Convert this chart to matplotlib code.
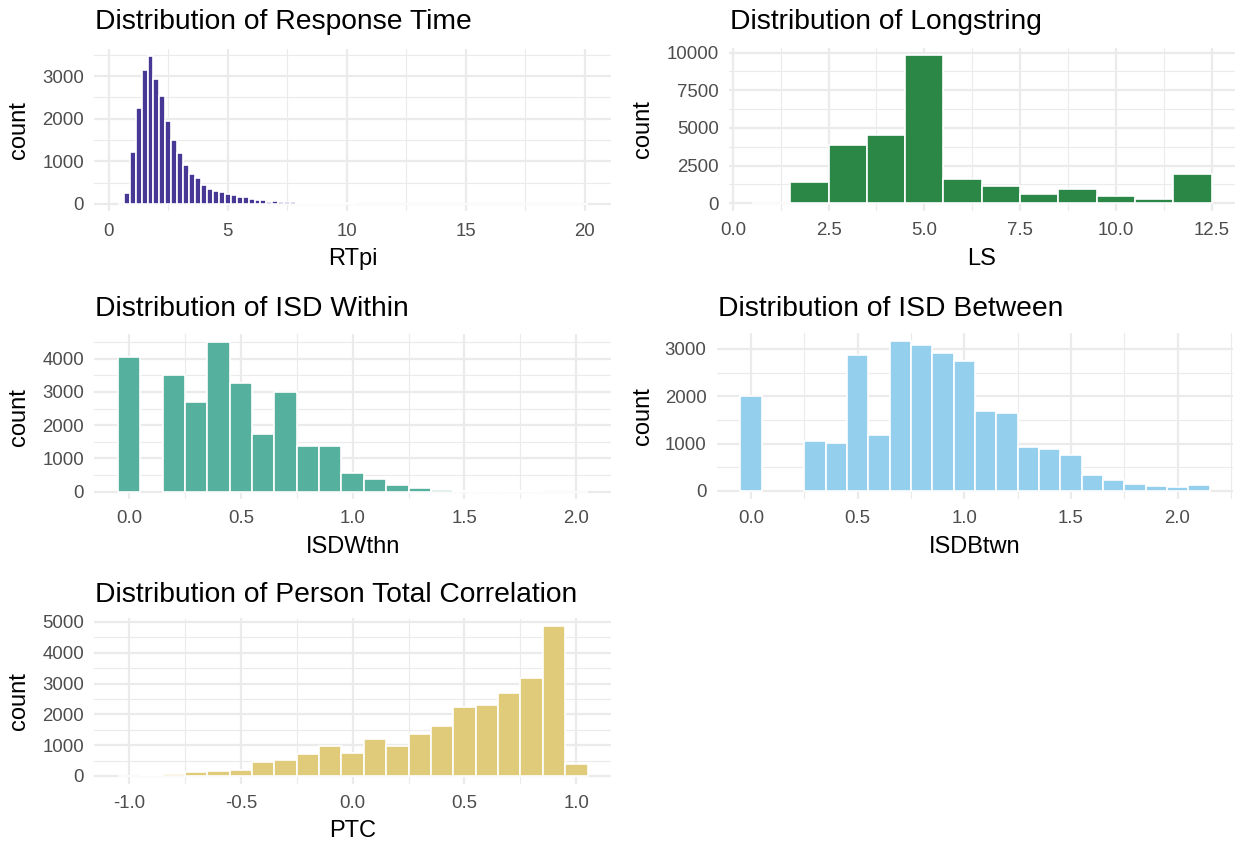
import numpy as np
import matplotlib
matplotlib.use("Agg")
import matplotlib.pyplot as plt
from matplotlib.ticker import MultipleLocator, FormatStrFormatter
from matplotlib.transforms import Affine2D

# ---------------- histogram data (counts per bin) ----------------
# Response time per item (RTpi): bins of width 0.25 starting at 0.5
rt_first_center = 0.5
rt_binwidth = 0.25
rt_counts = [10, 250, 1210, 2250, 3140, 3470, 2940, 2540, 1940, 1490,
             1200, 910, 710, 610, 450, 360, 300, 280, 225, 218,
             165, 162, 125, 88, 86, 56, 70, 46, 38, 36,
             30, 28, 24, 21, 19, 17, 15, 14, 12, 12,
             10, 10, 9, 9, 8, 8, 7, 7, 6, 6,
             6, 5, 5, 5, 4, 4, 4, 4, 3, 3,
             3, 3, 3, 3, 2, 2, 2, 2, 2, 2,
             2, 2, 1, 1, 1, 1, 1, 1, 4]

# Longstring (LS): bins of width 1 starting at 1
ls_first_center = 1.0
ls_binwidth = 1.0
ls_counts = [15, 1380, 3850, 4510, 9850, 1620, 1170, 610, 930, 490, 290, 1930]

# Intra-individual SD within scales: bins of width 0.1 starting at 0
isdw_first_center = 0.0
isdw_binwidth = 0.1
isdw_counts = [4040, 0, 3520, 2700, 4510, 3280, 1740, 2990, 1370, 1370,
               570, 390, 195, 125, 45, 30, 15, 10, 8, 5, 5]

# Intra-individual SD between scales: bins of width 0.1 starting at 0
isdb_first_center = 0.0
isdb_binwidth = 0.1
isdb_counts = [2010, 0, 0, 1065, 1010, 2870, 1175, 3175, 3080, 2915,
               2750, 1690, 1635, 930, 885, 765, 335, 230, 145, 108, 92, 130]

# Person total correlation: bins of width 0.1 starting at -1
ptc_first_center = -1.0
ptc_binwidth = 0.1
ptc_counts = [8, 25, 50, 130, 165, 205, 465, 505, 700, 975,
              745, 1190, 975, 1365, 1625, 2230, 2295, 2690, 3190, 4870, 405]

titles = ["Distribution of Response Time", "Distribution of Longstring",
          "Distribution of ISD Within", "Distribution of ISD Between",
          "Distribution of Person Total Correlation"]
xlabels = ["RTpi", "LS", "ISDWthn", "ISDBtwn", "PTC"]
fills = ["#463894", "#2A8746", "#55B09E", "#94CFEE", "#DFCB79"]

# ---------------- figure ----------------
plt.rcParams["font.family"] = ["Liberation Sans", "DejaVu Sans"]
plt.rcParams["axes.unicode_minus"] = False

W, H = 1236, 843
fig = plt.figure(figsize=(W / 100, H / 100), dpi=100)
fig.patch.set_facecolor("white")
# pixel coordinates measured from the top-left corner
px = Affine2D().scale(1 / W, -1 / H).translate(0, 1) + fig.transFigure

GRID = "#EBEBEB"
TICKCOL = "#4D4D4D"


def panel(box, first_center, binwidth, counts, fill, title, xlabel,
          xmajor, ymajor, xfmt, title_base, xlab_base, ylab_x):
    left, right, top, bottom = box
    ax = fig.add_axes([left / W, 1 - bottom / H, (right - left) / W, (bottom - top) / H])
    counts = np.asarray(counts, dtype=float)
    centers = first_center + binwidth * np.arange(len(counts))
    keep = counts > 0
    ax.bar(centers[keep], counts[keep], width=binwidth, color=fill,
           edgecolor="white", linewidth=1.2, zorder=3)

    lo = centers[0] - binwidth / 2
    hi = centers[-1] + binwidth / 2
    span = hi - lo
    ax.set_xlim(lo - 0.05 * span, hi + 0.05 * span)
    top_count = counts.max()
    ax.set_ylim(-0.05 * top_count, 1.05 * top_count)

    ax.xaxis.set_major_locator(MultipleLocator(xmajor))
    ax.xaxis.set_minor_locator(MultipleLocator(xmajor / 2))
    ax.yaxis.set_major_locator(MultipleLocator(ymajor))
    ax.yaxis.set_minor_locator(MultipleLocator(ymajor / 2))
    ax.xaxis.set_major_formatter(FormatStrFormatter(xfmt))
    ax.yaxis.set_major_formatter(FormatStrFormatter("%d"))

    ax.grid(which="major", color=GRID, linewidth=1.6)
    ax.grid(which="minor", color=GRID, linewidth=0.8)
    ax.set_axisbelow(True)
    for s in ax.spines.values():
        s.set_visible(False)
    ax.tick_params(which="both", length=0)
    ax.tick_params(axis="x", pad=8, labelsize=13.4, labelcolor=TICKCOL)
    ax.tick_params(axis="y", pad=7.5, labelsize=13.4, labelcolor=TICKCOL)

    ax.set_xlabel(xlabel, fontsize=17, color="black", va="baseline")
    ax.xaxis.set_label_coords((left + right) / 2, xlab_base, transform=px)
    ax.set_ylabel("count", fontsize=17, color="black", va="center")
    ax.yaxis.set_label_coords(ylab_x, (top + bottom) / 2, transform=px)

    fig.text(left + 1, title_base, title, transform=px, fontsize=20.3,
             color="black", ha="left", va="baseline")
    return ax


panel((94.3, 611, 48.6, 211.4), rt_first_center, rt_binwidth, rt_counts,
      fills[0], titles[0], xlabels[0], 5, 1000, "%d", 29.3, 265, 19.5)
panel((729, 1234.5, 47.5, 210.7), ls_first_center, ls_binwidth, ls_counts,
      fills[1], titles[1], xlabels[1], 2.5, 2500, "%.1f", 29.3, 265, 643)
panel((94.3, 611, 334.3, 499.2), isdw_first_center, isdw_binwidth, isdw_counts,
      fills[2], titles[2], xlabels[2], 0.5, 1000, "%.1f", 316.5, 553.3, 19.5)
panel((717, 1233, 333, 498.5), isdb_first_center, isdb_binwidth, isdb_counts,
      fills[3], titles[3], xlabels[3], 0.5, 1000, "%.1f", 316.5, 553.3, 643)
panel((94.3, 611, 618.5, 783.5), ptc_first_center, ptc_binwidth, ptc_counts,
      fills[4], titles[4], xlabels[4], 0.5, 1000, "%.1f", 601.5, 837, 19.5)

fig.savefig("out.png", dpi=100, facecolor="white")
